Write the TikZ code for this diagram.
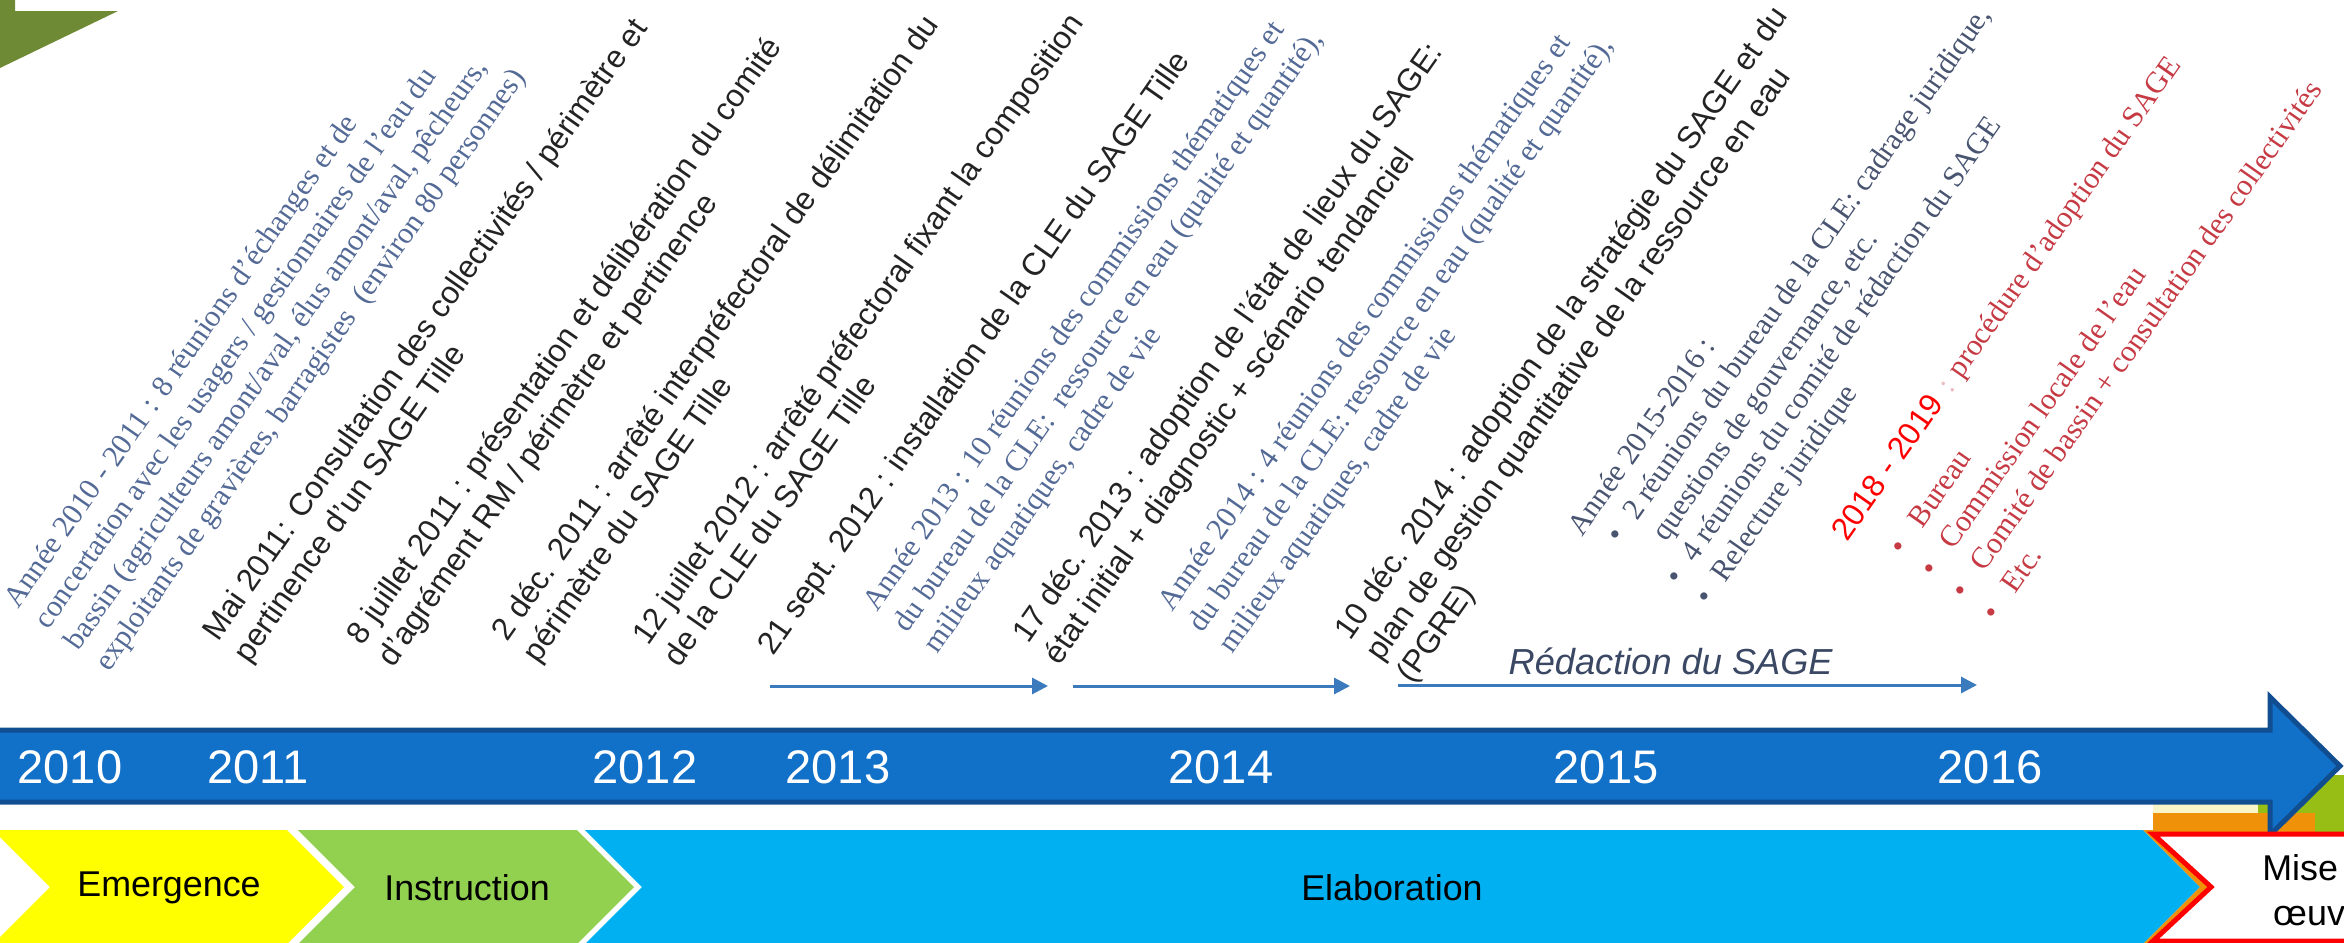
\documentclass[tikz,border=0pt]{standalone}
\usepackage{fontspec}
\setmainfont{Liberation Serif}
\setsansfont{Liberation Sans}
\usetikzlibrary{arrows.meta}
\definecolor{barblue}{RGB}{17,112,200}
\definecolor{barborder}{RGB}{16,78,145}
\definecolor{phaseyellow}{RGB}{255,255,0}
\definecolor{phasegreen}{RGB}{146,208,80}
\definecolor{phasecyan}{RGB}{0,176,240}
\definecolor{olivec}{RGB}{110,138,52}
\definecolor{serifblue}{RGB}{84,106,150}
\definecolor{slateserif}{RGB}{72,84,112}
\definecolor{redserif}{RGB}{198,58,68}
\definecolor{colonpink}{RGB}{235,190,195}
\definecolor{arrowblue}{RGB}{60,122,190}
\definecolor{textgray}{RGB}{35,35,35}
\definecolor{redac}{RGB}{58,72,100}
\definecolor{orangec}{RGB}{240,145,10}
\definecolor{limec}{RGB}{150,190,20}
\definecolor{paleyel}{RGB}{250,245,200}
\newcommand{\blocklines}[1]{\begin{tabular}[t]{@{}l@{}}#1\end{tabular}}
\newcommand{\bul}[2]{\hspace*{#1}\makebox[#2][l]{\textbullet}}
\begin{document}
\begin{tikzpicture}[x=0.1mm,y=-0.1mm,
  blk/.style={rotate=55, anchor=base west, inner sep=0pt},
  ar/.style={blk, font=\sffamily\fontsize{9pt}{10.7pt}\selectfont, text=textgray},
  sr/.style={blk, font=\rmfamily\fontsize{8.6pt}{10.5pt}\selectfont, text=serifblue},
  year/.style={font=\sffamily\fontsize{13.4pt}{16pt}\selectfont, text=white, inner sep=0pt},
  phase/.style={font=\sffamily\fontsize{10.2pt}{12.8pt}\selectfont, text=black, inner sep=0pt},
  small arrow/.style={draw=arrowblue, line width=0.3mm, -{Triangle[length=1.6mm,width=1.6mm]}},
]
\useasboundingbox (0,0) rectangle (2344,943);
\clip (0,0) rectangle (2344,943);

% olive corner
\fill[olivec] (0,0) -- (15,0) -- (15,11) -- (118,11) -- (0,68) -- cycle;

% remnants behind arrow head
\fill[limec] (2255,775) rectangle (2350,832);
\fill[orangec] (2153,813) rectangle (2315,832);
\fill[paleyel] (2153,804) rectangle (2258,813);

% timeline arrow
\draw[barborder, fill=barblue, line width=0.5mm, line join=miter]
  (-20,730) -- (2270,730) -- (2270,697) -- (2340,766) -- (2270,835) -- (2270,802) -- (-20,802) -- cycle;

% phases
\fill[phaseyellow] (-7,830) -- (287,830) -- (344,887) -- (287,944) -- (-7,944) -- (50,887) -- cycle;
\fill[phasegreen] (298,830) -- (577,830) -- (634,887) -- (577,944) -- (298,944) -- (355,887) -- cycle;
\fill[phasecyan] (585,830) -- (2143,830) -- (2200,887) -- (2143,944) -- (585,944) -- (642,887) -- cycle;
\fill[orangec] (2143,830) -- (2153,830) -- (2210,887) -- (2153,944) -- (2143,944) -- (2200,887) -- cycle;
\draw[red, line width=0.5mm, fill=white] (2153,834) -- (2360,834) -- (2360,941) -- (2153,941) -- (2211,887) -- cycle;

\node[phase] (emergence) at (169,888) {Emergence};
\node[phase] (instruction) at (467,888) {Instruction};
\node[phase] (elaboration) at (1392,888) {Elaboration};
\node[phase, align=center] (mise) at (2325,890) {Mise en\\œuvre};

% years
\node[year] (y2010) at (70,767) {2010};
\node[year] (y2011) at (258,767) {2011};
\node[year] (y2012) at (645,767) {2012};
\node[year] (y2013) at (838,767) {2013};
\node[year] (y2014) at (1221,767) {2014};
\node[year] (y2015) at (1606,767) {2015};
\node[year] (y2016) at (1990,767) {2016};

% small arrows
\coordinate (a1s) at (770,686);
\coordinate (a1e) at (1048,686);
\coordinate (a2s) at (1073,686);
\coordinate (a2e) at (1350,686);
\coordinate (a3s) at (1398,685);
\coordinate (a3e) at (1977,685);
\draw[small arrow] (a1s) -- (a1e);
\draw[small arrow] (a2s) -- (a2e);
\draw[small arrow] (a3s) -- (a3e);
\node[font=\sffamily\itshape\fontsize{10.3pt}{12pt}\selectfont, text=redac, anchor=base west, inner sep=0pt] (redaction) at (1508,674) {Rédaction du SAGE};

% rotated text blocks
\node[sr] (b1) at (18,610) {\blocklines{Année 2010 - 2011 : 8 réunions d'échanges et de\\ concertation avec les usagers / gestionnaires de l'eau du\\ bassin (agriculteurs amont/aval, élus amont/aval, pêcheurs,\\ exploitants de gravières, barragistes\ \ (environ 80 personnes)}};
\node[ar] (b2) at (218,643) {\blocklines{Mai 2011: Consultation des collectivités / périmètre et\\ pertinence d'un SAGE Tille}};
\node[ar] (b3) at (362,647) {\blocklines{8 juillet 2011 : présentation et délibération du comité\\ d'agrément RM / périmètre et pertinence}};
\node[ar] (b4) at (507,643) {\blocklines{2 déc. 2011 : arrêté interpréfectoral de délimitation du\\ périmètre du SAGE Tille}};
\node[ar] (b5) at (648,647) {\blocklines{12 juillet 2012 : arrêté préfectoral fixant la composition\\ de la CLE du SAGE Tille}};
\node[ar] (b6) at (773,657) {21 sept. 2012 : installation de la CLE du SAGE Tille};
\node[sr] (b7) at (877,613) {\blocklines{Année 2013 : 10 réunions des commissions thématiques et\\ du bureau de la CLE:\ \ ressource en eau (qualité et quantité),\\ milieux aquatiques, cadre de vie}};
\node[ar] (b8) at (1028,645) {\blocklines{17 déc. 2013 : adoption de l'état de lieux du SAGE:\\ état initial + diagnostic + scénario tendanciel}};
\node[sr] (b9) at (1172,613) {\blocklines{Année 2014 : 4 réunions des commissions thématiques et\\ du bureau de la CLE: ressource en eau (qualité et quantité),\\ milieux aquatiques, cadre de vie}};
\node[ar] (b10) at (1350,642) {\blocklines{10 déc. 2014 : adoption de la stratégie du SAGE et du\\ plan de gestion quantitative de la ressource en eau\\ (PGRE)}};
\node[sr, text=slateserif, font=\rmfamily\fontsize{8.6pt}{10.2pt}\selectfont] (b11) at (1582,538) {\blocklines{Année 2015-2016 :\\ \bul{1.6mm}{2.8mm}2 réunions du bureau de la CLE: cadrage juridique,\\ \hspace*{4.4mm}questions de gouvernance, etc.\\ \bul{1.6mm}{2.8mm}4 réunions du comité de rédaction du SAGE\\ \bul{1.6mm}{2.8mm}Relecture juridique}};
\node[sr, text=redserif, font=\rmfamily\fontsize{8.6pt}{10.8pt}\selectfont] (b12) at (1847,543) {\blocklines{{\sffamily\fontsize{9pt}{10.8pt}\selectfont\color{red}2018 - 2019}\hspace{1.2mm}{\color{colonpink}:} procédure d'adoption du SAGE\\[1.6mm] \bul{2.0mm}{3.4mm}Bureau\\ \bul{2.0mm}{3.4mm}Commission locale de l'eau\\ \bul{2.0mm}{3.4mm}Comité de bassin + consultation des collectivités\\ \bul{2.0mm}{3.4mm}Etc.}};
\end{tikzpicture}
\end{document}
